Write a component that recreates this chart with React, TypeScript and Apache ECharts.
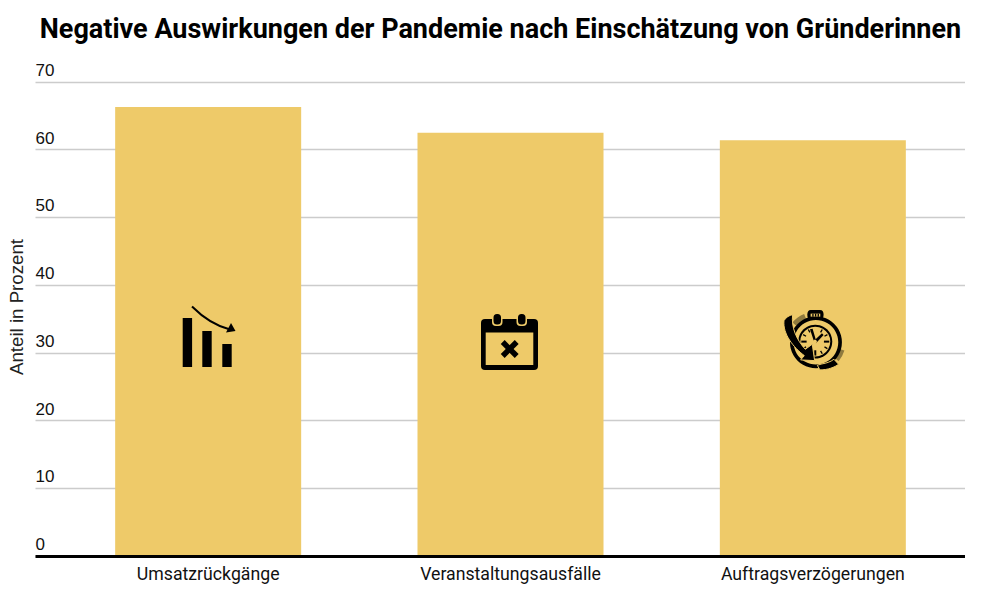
import React, { useEffect, useRef } from "react";
import * as echarts from "echarts";

const titleText = "Negative Auswirkungen der Pandemie nach Einschätzung von Gründerinnen";
const yAxisName = "Anteil in Prozent";
const categories = ["Umsatzrückgänge", "Veranstaltungsausfälle", "Auftragsverzögerungen"];
const shareValues = [66.3, 62.5, 61.4];
const yMin = 0;
const yMax = 70;
const yStep = 10;

const GOLD = "#EECA69";
const INK = "#000000";
const HATCH = "#8f7a3e";

echarts.graphic.registerShape(
  "swooshMain",
  echarts.graphic.extendPath(
    "M72,92 C78,82 88,76 98,74 C93,112 110,150 136,178 L157,163 L164,212 L122,210 L133,197 C100,172 68,132 72,92 Z",
    {}
  )
);
echarts.graphic.registerShape(
  "swooshTail",
  echarts.graphic.extendPath("M172,226 L186,222 C198,220 212,216 222,208 L236,223 C224,232 204,240 180,240 Z", {})
);
echarts.graphic.registerShape(
  "crown",
  echarts.graphic.extendPath(
    "M152,60 L180,60 C188,60 191,66 191,74 C191,84 186,90 178,90 L154,90 C146,90 142,84 142,74 C142,66 146,60 152,60 Z",
    {}
  )
);
echarts.graphic.registerShape(
  "arrowCurve",
  echarts.graphic.extendPath("M0,0 C10,10 22,19 38,23", {})
);
echarts.graphic.registerShape(
  "minuteHand",
  echarts.graphic.extendPath("M163,157 L150,118 L158,116 L169,154 Z M163,152 L186,130 L191,135 L168,160 Z", {})
);

const black = { fill: INK };
const gold = { fill: GOLD };

const salesIcon: any = {
  type: "group",
  silent: true,
  children: [
    { type: "rect", shape: { x: 182.7, y: 318, width: 9.4, height: 49 }, style: black },
    { type: "rect", shape: { x: 202.3, y: 331, width: 9.4, height: 36 }, style: black },
    { type: "rect", shape: { x: 222.3, y: 344, width: 9.4, height: 23 }, style: black },
    {
      type: "arrowCurve",
      x: 192,
      y: 306.5,
      style: { fill: "none", stroke: INK, lineWidth: 2 },
    },
    { type: "polygon", shape: { points: [[231, 323], [235.5, 331], [226, 332.5]] }, style: black },
  ],
};

const calendarIcon: any = {
  type: "group",
  silent: true,
  children: [
    { type: "rect", shape: { x: 481, y: 319, width: 57, height: 51, r: 4 }, style: black },
    { type: "rect", shape: { x: 485.7, y: 332.5, width: 47.6, height: 32.5 }, style: gold },
    { type: "rect", shape: { x: 492, y: 313, width: 10.5, height: 13, r: 4 }, style: gold },
    { type: "rect", shape: { x: 516.5, y: 313, width: 10.5, height: 13, r: 4 }, style: gold },
    { type: "rect", shape: { x: 493.5, y: 314, width: 7.5, height: 10.5, r: 3.5 }, style: black },
    { type: "rect", shape: { x: 518, y: 314, width: 7.5, height: 10.5, r: 3.5 }, style: black },
    {
      type: "line",
      shape: { x1: 502.7, y1: 342, x2: 516.7, y2: 356 },
      style: { stroke: INK, lineWidth: 5.5 },
    },
    {
      type: "line",
      shape: { x1: 516.7, y1: 342, x2: 502.7, y2: 356 },
      style: { stroke: INK, lineWidth: 5.5 },
    },
  ],
};

const C = { cx: 166, cy: 155 };
const clockTicks = [30, 60, 90, 120, 150, 180, 210, 240, 270, 300, 330].map((deg) => {
  const a = (deg * Math.PI) / 180;
  const long = deg % 90 === 0;
  const r1 = long ? 26 : 32;
  const r2 = 42;
  return {
    type: "line",
    shape: {
      x1: C.cx + Math.sin(a) * r1,
      y1: C.cy - Math.cos(a) * r1,
      x2: C.cx + Math.sin(a) * r2,
      y2: C.cy - Math.cos(a) * r2,
    },
    style: { stroke: INK, lineWidth: long ? 6 : 4 },
  };
});

const clockIcon: any = {
  type: "group",
  x: 760,
  y: 290,
  scaleX: 1 / 3,
  scaleY: 1 / 3,
  silent: true,
  children: [
    {
      type: "arc",
      shape: { cx: 166, cy: 155, r: 82, startAngle: (-140 * Math.PI) / 180, endAngle: (-112 * Math.PI) / 180 },
      style: { stroke: HATCH, lineWidth: 15, fill: "none" },
    },
    {
      type: "arc",
      shape: { cx: 166, cy: 155, r: 84, startAngle: (17 * Math.PI) / 180, endAngle: (40 * Math.PI) / 180 },
      style: { stroke: HATCH, lineWidth: 15, fill: "none" },
    },
    { type: "ring", shape: { cx: 168, cy: 157, r: 78, r0: 67 }, style: black },
    { type: "circle", shape: { cx: 166, cy: 155, r: 51 }, style: black },
    { type: "circle", shape: { cx: 166, cy: 155, r: 45 }, style: gold },
    { type: "crown", style: black },
    { type: "rect", shape: { x: 152, y: 71, width: 29, height: 9 }, style: gold },
    { type: "rect", shape: { x: 157, y: 71, width: 4, height: 9 }, style: black },
    { type: "rect", shape: { x: 165, y: 71, width: 4, height: 9 }, style: black },
    { type: "rect", shape: { x: 173, y: 71, width: 4, height: 9 }, style: black },
    ...clockTicks,
    { type: "minuteHand", style: black },
    { type: "circle", shape: { cx: 165, cy: 155, r: 6 }, style: gold },
    { type: "swooshMain", style: { fill: INK, stroke: GOLD, lineWidth: 3 } },
    { type: "swooshTail", style: { fill: INK, stroke: GOLD, lineWidth: 3 } },
  ],
};

// Icons sit above the bars: every element, children included, gets a high z.
const raised = (g: any): any => ({
  ...g,
  z: 10,
  children: g.children ? g.children.map(raised) : undefined,
});

export default function App() {
  const ref = useRef<HTMLDivElement>(null);
  useEffect(() => {
    const chart = echarts.init(ref.current!, undefined, { renderer: "svg" });
    chart.setOption({
      animation: false,
      backgroundColor: "#ffffff",
      textStyle: { fontFamily: "Roboto" },
      title: {
        text: titleText,
        left: 495.5,
        top: 10,
        textAlign: "center",
        textStyle: { fontFamily: "Roboto", fontSize: 27, fontWeight: "bold", color: "#000000" },
      },
      grid: [
        { left: 35.5, right: 16, top: 82, height: 474 },
        { left: 57, right: 17, top: 82, height: 474 },
      ],
      xAxis: [
        {
          gridIndex: 0,
          type: "value",
          min: 0,
          max: 1,
          z: 6,
          axisLine: { show: true, lineStyle: { color: "#000000", width: 3, cap: "butt" } },
          axisTick: { show: false },
          axisLabel: { show: false },
          splitLine: { show: false },
        },
        {
          gridIndex: 1,
          type: "category",
          data: categories,
          axisLine: { show: false },
          axisTick: { show: false },
          axisLabel: { color: "#111111", fontSize: 17.7, fontFamily: "Roboto", margin: 9 },
        },
      ],
      yAxis: [
        {
          gridIndex: 0,
          type: "value",
          min: yMin,
          max: yMax,
          interval: yStep,
          axisLine: { show: false },
          axisTick: { show: false },
          axisLabel: {
            inside: true,
            margin: 0,
            color: "#111111",
            fontSize: 17,
            fontFamily: "Liberation Sans",
            verticalAlign: "bottom",
            padding: [0, 0, 3, 0],
          },
          splitLine: { show: true, lineStyle: { color: "#cccccc", width: 1.4 } },
        },
        {
          gridIndex: 1,
          type: "value",
          min: yMin,
          max: yMax,
          interval: yStep,
          axisLine: { show: false },
          axisTick: { show: false },
          axisLabel: { show: false },
          splitLine: { show: false },
        },
      ],
      series: [
        {
          type: "bar",
          xAxisIndex: 1,
          yAxisIndex: 1,
          data: shareValues,
          barWidth: 186,
          z: 2,
          itemStyle: { color: GOLD },
          silent: true,
        },
      ],
      graphic: {
        elements: [
          ...[salesIcon, calendarIcon, clockIcon].map(raised),
          {
            type: "text",
            x: 16,
            y: 307,
            rotation: Math.PI / 2,
            z: 10,
            style: {
              text: yAxisName,
              fill: "#222222",
              font: "18.7px 'Liberation Sans'",
              align: "center",
              verticalAlign: "middle",
            },
          },
        ],
      },
    });
    return () => chart.dispose();
  }, []);
  return <div ref={ref} style={{ width: 981, height: 600, position: "absolute", left: 0, top: 0 }} />;
}
